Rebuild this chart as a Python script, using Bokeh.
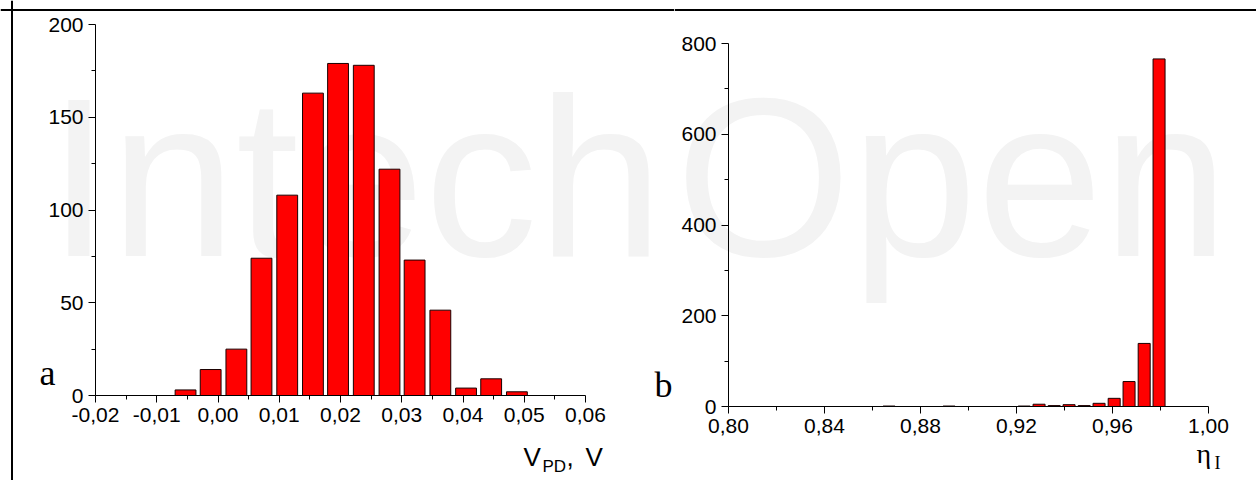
'''
Two histograms: photodiode voltage V_PD (a) and efficiency eta_I (b).
'''
from bokeh.plotting import figure
from bokeh.layouts import row
from bokeh.models import Range1d, FixedTicker, CustomJSTickFormatter, Label, Span
from bokeh.embed import file_html
from bokeh.resources import INLINE

# histogram a: V_PD, V
vpd_centers = [-0.0053, -0.0012, 0.0030, 0.0071, 0.0113, 0.0155, 0.0196,
               0.0238, 0.0280, 0.0321, 0.0363, 0.0405, 0.0446, 0.0488]
vpd_counts = [3, 14, 25, 74, 108, 163, 179, 178, 122, 73, 46, 4, 9, 2]
vpd_ticks = [-0.02, -0.01, 0.00, 0.01, 0.02, 0.03, 0.04, 0.05, 0.06]
vpd_minor = [-0.015, -0.005, 0.005, 0.015, 0.025, 0.035, 0.045, 0.055]
vpd_yticks = [0, 50, 100, 150, 200]
vpd_yminor = [25, 75, 125, 175]

# histogram b: eta_I
eta_centers = [0.8669, 0.8919, 0.9232, 0.9294, 0.9357, 0.9419, 0.9482,
               0.9544, 0.9607, 0.9669, 0.9732, 0.9794]
eta_counts = [1, 1, 1, 5, 2, 4, 2, 7, 18, 55, 139, 766]
eta_ticks = [0.80, 0.84, 0.88, 0.92, 0.96, 1.00]
eta_minor = [0.82, 0.86, 0.90, 0.94, 0.98]
eta_yticks = [0, 200, 400, 600, 800]
eta_yminor = [100, 300, 500, 700]

SANS = "Liberation Sans"
SERIF = "Liberation Serif"
H = 480          # canvas height, screen y 0..480
SPLIT = 674      # screen x where the left canvas ends
comma_fmt = CustomJSTickFormatter(code="return tick.toFixed(2).replace('.', ',');")


class PageMap:
	'''maps screen pixels to data values, from two known points per axis'''
	def __init__(self, xa, pxa, xb, pxb, ya, pya, yb, pyb):
		self.kx = (xb - xa) / (pxb - pxa)
		self.ky = (yb - ya) / (pyb - pya)
		self.xa, self.pxa, self.ya, self.pya = xa, pxa, ya, pya

	def x(self, px):
		return self.xa + (px - self.pxa) * self.kx

	def y(self, py):
		return self.ya + (py - self.pya) * self.ky


def make_fig(m, left, width):
	p = figure(width=width, height=H,
		x_range=Range1d(m.x(left), m.x(left + width)), y_range=Range1d(m.y(H), m.y(0)),
		output_backend="svg", toolbar_location=None,
		min_border_left=0, min_border_right=0, min_border_top=0, min_border_bottom=0)
	p.title.visible = False
	p.grid.visible = False
	p.outline_line_color = None
	return p


def style_axes(p, xt, xm, yt, ym):
	p.xaxis.ticker = FixedTicker(ticks=xt, minor_ticks=xm)
	p.yaxis.ticker = FixedTicker(ticks=yt, minor_ticks=ym)
	p.xaxis.formatter = comma_fmt
	p.xaxis.fixed_location = yt[0]
	p.xaxis.bounds = (xt[0], xt[-1])
	p.yaxis.fixed_location = xt[0]
	p.yaxis.bounds = (yt[0], yt[-1])
	for ax in (p.xaxis[0], p.yaxis[0]):
		ax.axis_line_color = "black"
		ax.major_tick_line_color = "black"
		ax.minor_tick_line_color = "black"
		ax.major_tick_in = 0
		ax.major_tick_out = 7
		ax.minor_tick_in = 0
		ax.minor_tick_out = 4
		ax.major_label_text_font = SANS
		ax.major_label_text_font_size = "21px"
		ax.major_label_text_color = "black"
		ax.major_label_standoff = 5


def add_text(p, m, px, base, txt, font, size, color="black", level="annotation"):
	# base is the wanted baseline; labels sit about 0.357 em lower than given y
	p.add_layout(Label(x=m.x(px), y=m.y(base - 0.357 * size), text=txt, text_font=font,
		text_font_size=f"{size}px", text_color=color, text_baseline="alphabetic",
		text_align="left", level=level))


# left plot: screen x 0..SPLIT
m1 = PageMap(-0.02, 95, 0.06, 585, 0, 395, 200, 24)
p1 = make_fig(m1, 0, SPLIT)
# faint watermark, first half
add_text(p1, m1, 47, 258, "Intech", SANS, 226, color="#f3f3f3", level="underlay")
p1.vbar(x=vpd_centers, top=vpd_counts, width=0.0034, bottom=0,
	fill_color="#ff0000", line_color="#1a0000", line_width=1)
style_axes(p1, vpd_ticks, vpd_minor, vpd_yticks, vpd_yminor)
# frame lines of the page, top and left
p1.add_layout(Span(location=m1.y(9.5), dimension="width", line_color="black", line_width=2))
p1.add_layout(Span(location=m1.x(11.5), dimension="height", line_color="black", line_width=2))
add_text(p1, m1, 39, 385, "a", SERIF, 36)
add_text(p1, m1, 654, 397, "b", SERIF, 36)
add_text(p1, m1, 523, 466, "V", SANS, 26)
add_text(p1, m1, 542, 472, "PD", SANS, 17)
add_text(p1, m1, 566, 466, ",", SANS, 26)
add_text(p1, m1, 585, 466, "V", SANS, 26)

# right plot: screen x SPLIT..1256
m2 = PageMap(0.80, 728, 1.00, 1208, 0, 406, 800, 43)
p2 = make_fig(m2, SPLIT, 1256 - SPLIT)
# faint watermark, second half
add_text(p2, m2, SPLIT + 1, 258, "Open", SANS, 226, color="#f3f3f3", level="underlay")
p2.vbar(x=eta_centers, top=eta_counts, width=0.0050, bottom=0,
	fill_color="#ff0000", line_color="#1a0000", line_width=1)
style_axes(p2, eta_ticks, eta_minor, eta_yticks, eta_yminor)
p2.add_layout(Span(location=m2.y(9.5), dimension="width", line_color="black", line_width=2))
add_text(p2, m2, 1196, 463, "\u03b7", SERIF, 28)
add_text(p2, m2, 1214, 469, "I", SERIF, 18)

layout = row(p1, p2)

open("out.html", "w").write(file_html(layout, INLINE))
